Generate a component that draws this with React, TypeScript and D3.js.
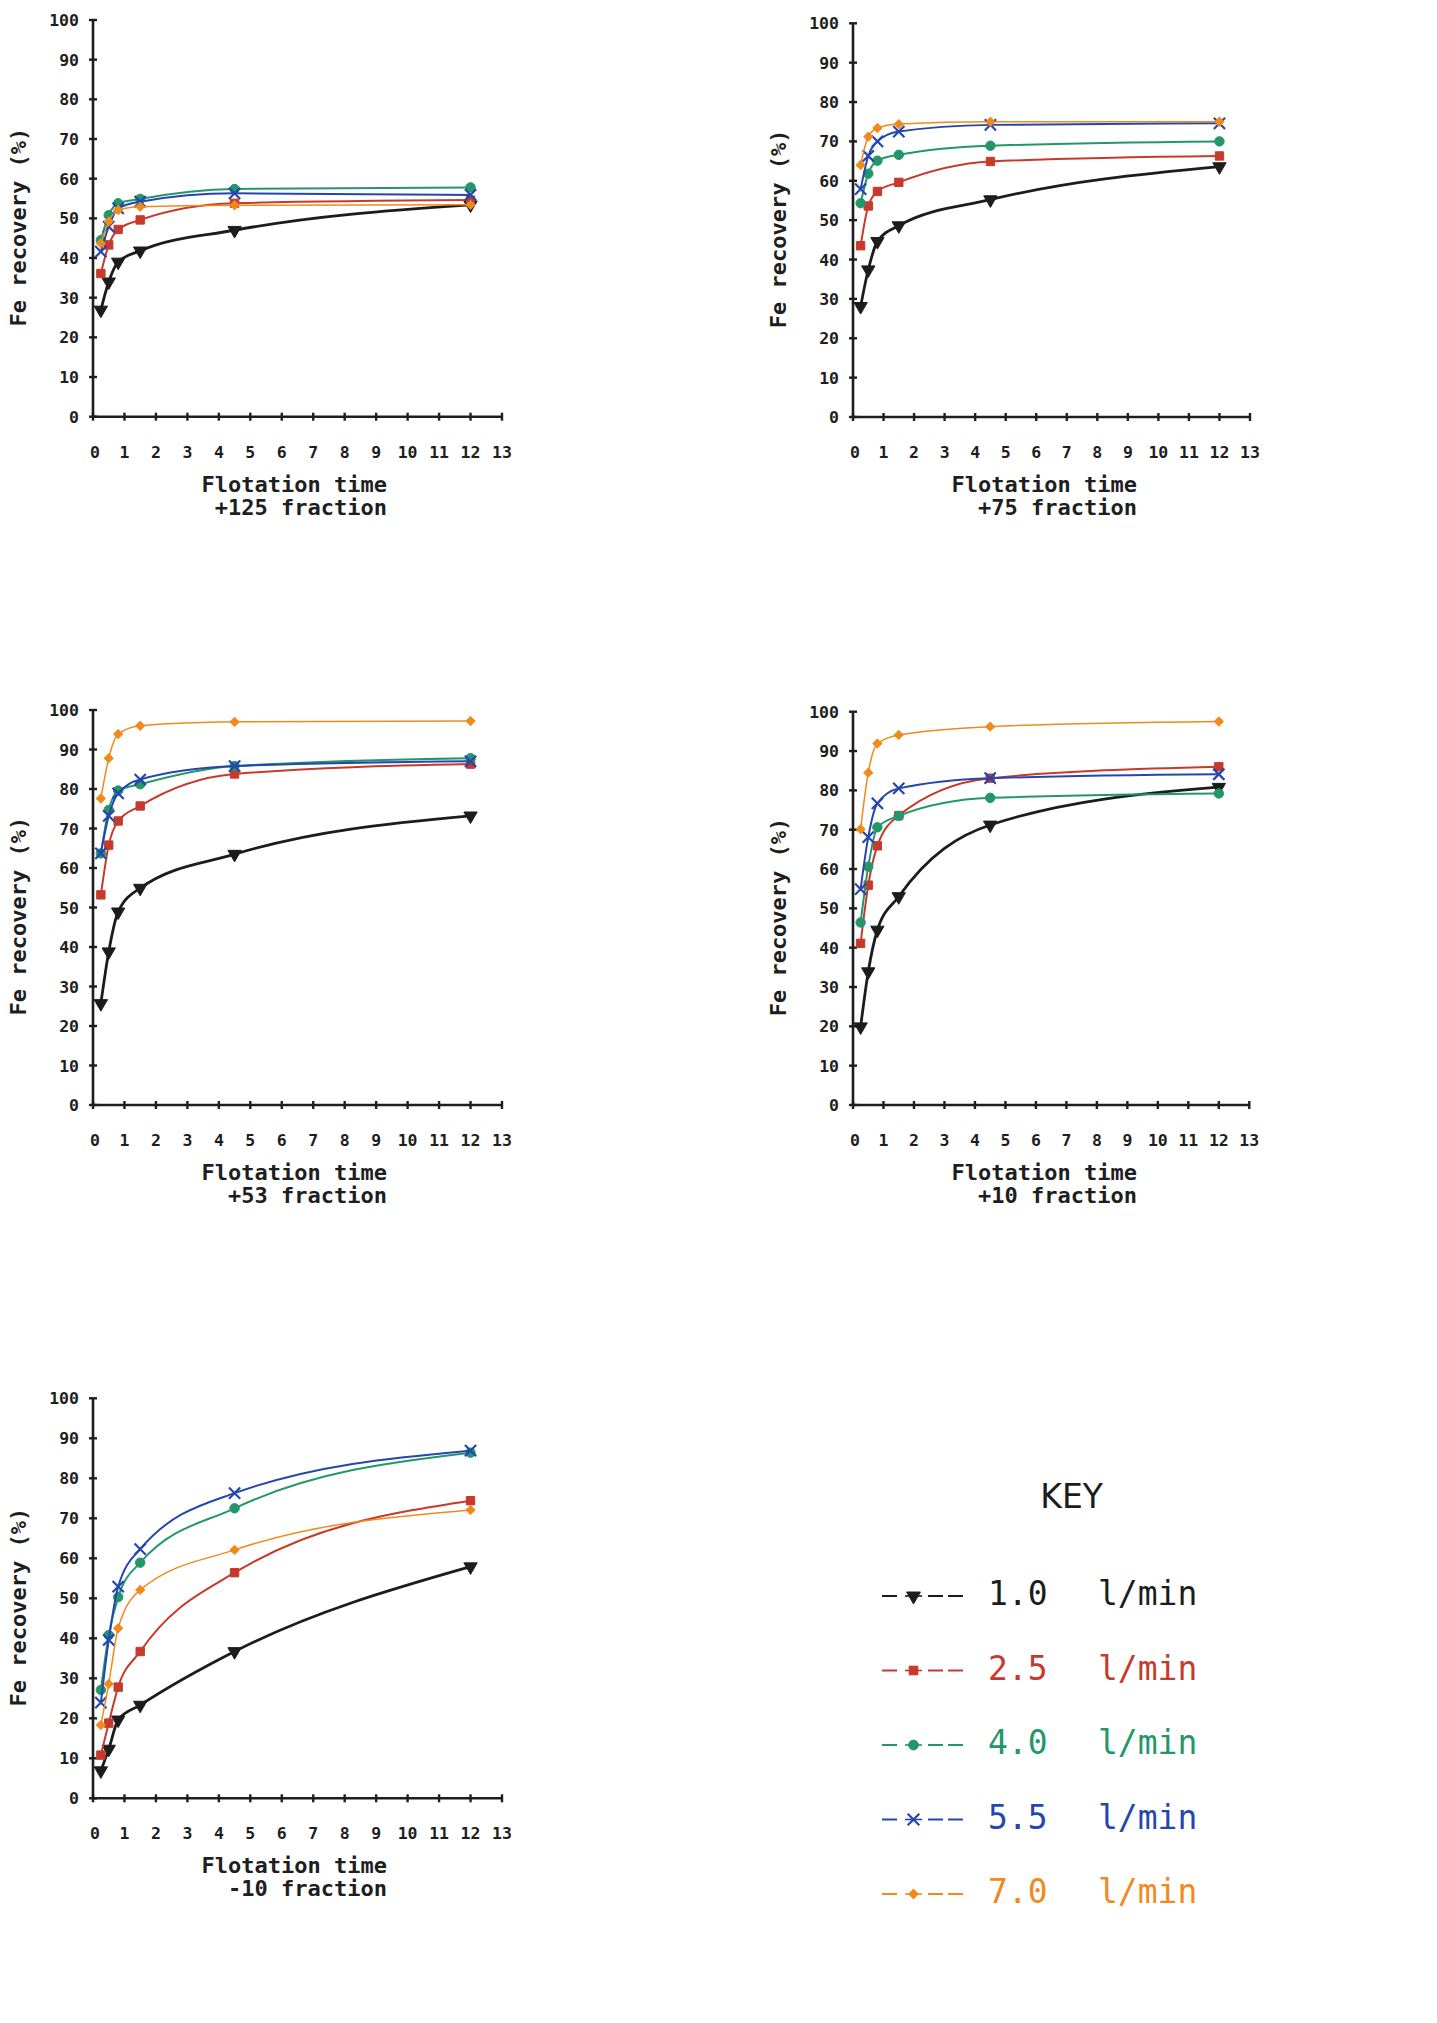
import React from "react";
import * as d3 from "d3";

// ---------- data ----------
const times = [0.25, 0.5, 0.8, 1.5, 4.5, 12];
const xTickValues = d3.range(0, 14);
const yTickValues = d3.range(0, 101, 10);
const flowRates = ["1.0", "2.5", "4.0", "5.5", "7.0"];
const seriesColors = ["#1c1c1c", "#c63a2c", "#23976a", "#2547ad", "#f08a1e"];
const seriesMarkers = ["triangle", "square", "circle", "cross", "diamond"];
const fractionNames = ["+125", "+75", "+53", "+10", "-10"];

// rows: 1.0, 2.5, 4.0, 5.5, 7.0 l/min
const fraction125 = [
  [26.9, 34.0, 39.0, 41.8, 47.0, 53.4],
  [36.1, 43.3, 47.2, 49.6, 53.8, 54.6],
  [44.5, 50.8, 53.8, 54.9, 57.4, 57.8],
  [41.6, 47.9, 52.5, 54.2, 56.3, 55.9],
  [43.7, 49.2, 52.1, 52.9, 53.3, 53.4],
];
const fraction75 = [
  [28.1, 37.4, 44.6, 48.6, 55.2, 63.6],
  [43.5, 53.6, 57.3, 59.6, 64.9, 66.3],
  [54.3, 61.8, 65.1, 66.6, 68.9, 70.0],
  [57.9, 66.3, 70.0, 72.5, 74.2, 74.6],
  [64.0, 71.2, 73.4, 74.4, 75.0, 75.0],
];
const fraction53 = [
  [25.7, 38.8, 48.9, 54.9, 63.5, 73.2],
  [53.2, 65.8, 71.9, 75.7, 83.8, 86.3],
  [63.7, 74.7, 79.6, 81.2, 85.8, 87.8],
  [63.7, 73.2, 78.9, 82.4, 85.8, 87.0],
  [77.6, 87.8, 93.9, 96.0, 97.0, 97.2],
];
const fraction10 = [
  [19.9, 33.9, 44.5, 53.0, 71.2, 80.8],
  [41.1, 55.9, 65.9, 73.6, 83.1, 86.0],
  [46.4, 60.6, 70.6, 73.5, 78.1, 79.2],
  [54.9, 68.1, 76.7, 80.5, 83.1, 84.1],
  [70.1, 84.5, 91.9, 94.1, 96.2, 97.5],
];
const fractionMinus10 = [
  [6.9, 12.3, 19.6, 23.3, 36.7, 57.9],
  [10.8, 18.8, 27.8, 36.7, 56.4, 74.4],
  [27.1, 40.8, 50.3, 58.9, 72.5, 86.4],
  [23.9, 39.6, 52.9, 62.3, 76.3, 86.9],
  [18.3, 28.6, 42.5, 52.1, 62.1, 72.1],
];
const fractionData = [fraction125, fraction75, fraction53, fraction10, fractionMinus10];

// ---------- layout ----------
const panelFrames = [
  { x0: 93, x1: 502, y0: 416.7, y1: 20, titleEnd: 387 },
  { x0: 853, x1: 1250, y0: 417, y1: 23.3, titleEnd: 1137 },
  { x0: 93, x1: 502, y0: 1105, y1: 710, titleEnd: 387 },
  { x0: 853, x1: 1249.3, y0: 1105, y1: 711.7, titleEnd: 1137 },
  { x0: 93, x1: 502, y0: 1798.3, y1: 1398.3, titleEnd: 387 },
];

const monoFont = "'DejaVu Sans Mono', 'Liberation Mono', monospace";
const lineWidths = [2.8, 2, 2, 2, 1.5];

function markerPath(kind: string, size: number) {
  switch (kind) {
    case "triangle":
      return d3.symbol(d3.symbolTriangle, size * 1.1)();
    case "square":
      return d3.symbol(d3.symbolSquare, size)();
    case "circle":
      return d3.symbol(d3.symbolCircle, size)();
    case "cross":
      return d3.symbol(d3.symbolX, size * 1.2)();
    default:
      return d3.symbol(d3.symbolSquare, size * 0.8)();
  }
}

function Marker({ kind, color, x, y, size = 70 }: any) {
  const rot = kind === "triangle" ? 180 : kind === "diamond" ? 45 : 0;
  const stroke = kind === "cross";
  return (
    <path
      d={markerPath(kind, size) as string}
      transform={`translate(${x},${y}) rotate(${rot})`}
      fill={stroke ? "none" : color}
      stroke={color}
      strokeWidth={stroke ? 2.2 : 1}
    />
  );
}

function Panel({ frame, data, name }: any) {
  const x = d3.scaleLinear().domain([0, 13]).range([frame.x0, frame.x1]);
  const y = d3.scaleLinear().domain([0, 100]).range([frame.y0, frame.y1]);
  const line = d3
    .line<number>()
    .x((_, i) => x(times[i]))
    .y((d) => y(d))
    .curve(d3.curveMonotoneX);
  const axisColor = "#1e1e1e";
  const labelY = y(0) - 0.478 * (y(0) - y(100));
  return (
    <g>
      <line x1={x(0)} x2={x(13)} y1={y(0)} y2={y(0)} stroke={axisColor} strokeWidth={2.6} />
      <line x1={x(0)} x2={x(0)} y1={y(0)} y2={y(100)} stroke={axisColor} strokeWidth={2.6} />
      {xTickValues.map((t) => (
        <g key={"xt" + t}>
          <line x1={x(t)} x2={x(t)} y1={y(0) - 4} y2={y(0) + 4} stroke={axisColor} strokeWidth={2.4} />
          <text
            x={x(t) + (t === 0 ? 2 : 0)}
            y={y(0) + 41}
            textAnchor="middle"
            fontFamily={monoFont}
            fontWeight="bold"
            fontSize={16.5}
            fill={axisColor}
          >
            {t}
          </text>
        </g>
      ))}
      {yTickValues.map((t) => (
        <g key={"yt" + t}>
          <line x1={x(0) - 4} x2={x(0) + 4} y1={y(t)} y2={y(t)} stroke={axisColor} strokeWidth={2.4} />
          <text
            x={x(0) - 14}
            y={y(t) + 6}
            textAnchor="end"
            fontFamily={monoFont}
            fontWeight="bold"
            fontSize={16.5}
            fill={axisColor}
          >
            {t}
          </text>
        </g>
      ))}
      <text
        transform={`translate(${x(0) - 67},${labelY}) rotate(-90)`}
        textAnchor="middle"
        fontFamily={monoFont}
        fontWeight="bold"
        fontSize={22}
        fill={axisColor}
      >
        Fe recovery (%)
      </text>
      <text x={frame.titleEnd} y={y(0) + 75} textAnchor="end" fontFamily={monoFont} fontWeight="bold" fontSize={22} fill={axisColor}>
        Flotation time
      </text>
      <text x={frame.titleEnd} y={y(0) + 98} textAnchor="end" fontFamily={monoFont} fontWeight="bold" fontSize={22} fill={axisColor}>
        {name + " fraction"}
      </text>
      {data.map((vals: number[], si: number) => (
        <g key={"s" + si}>
          <path d={line(vals) as string} fill="none" stroke={seriesColors[si]} strokeWidth={lineWidths[si]} />
          {vals.map((v, i) => (
            <Marker key={i} kind={seriesMarkers[si]} color={seriesColors[si]} x={x(times[i])} y={y(v)} size={si === 4 ? 50 : 70} />
          ))}
        </g>
      ))}
    </g>
  );
}

function Legend() {
  const baseY = 1605;
  const step = 74.5;
  return (
    <g>
      <text x={1071.7} y={1508} textAnchor="middle" fontFamily="'DejaVu Sans', sans-serif" fontSize={33} fill="#1c1c1c">
        KEY
      </text>
      {flowRates.map((r, i) => {
        const by = baseY + i * step;
        const ly = by - 9;
        const c = seriesColors[i];
        return (
          <g key={"lg" + i}>
            <line x1={882} x2={897} y1={ly} y2={ly} stroke={c} strokeWidth={2} />
            <line x1={905} x2={922} y1={ly} y2={ly} stroke={c} strokeWidth={1.6} />
            <line x1={928} x2={943} y1={ly} y2={ly} stroke={c} strokeWidth={2} />
            <line x1={948} x2={963} y1={ly} y2={ly} stroke={c} strokeWidth={2} />
            <Marker kind={seriesMarkers[i]} color={c} x={913.5} y={ly} size={i === 4 ? 55 : 75} />
            <text x={988} y={by} fontFamily={monoFont} fontSize={33} fill={c}>
              {r}
            </text>
            <text x={1098} y={by} fontFamily={monoFont} fontSize={33} fill={c}>
              l/min
            </text>
          </g>
        );
      })}
    </g>
  );
}

export default function App() {
  return (
    <svg
      width={1437}
      height={2023}
      viewBox="0 0 1437 2023"
      style={{ position: "absolute", left: 0, top: 0, background: "#ffffff", display: "block" }}
    >
      <rect x={0} y={0} width={1437} height={2023} fill="#ffffff" />
      {panelFrames.map((f, i) => (
        <Panel key={i} frame={f} data={fractionData[i]} name={fractionNames[i]} />
      ))}
      <Legend />
    </svg>
  );
}
